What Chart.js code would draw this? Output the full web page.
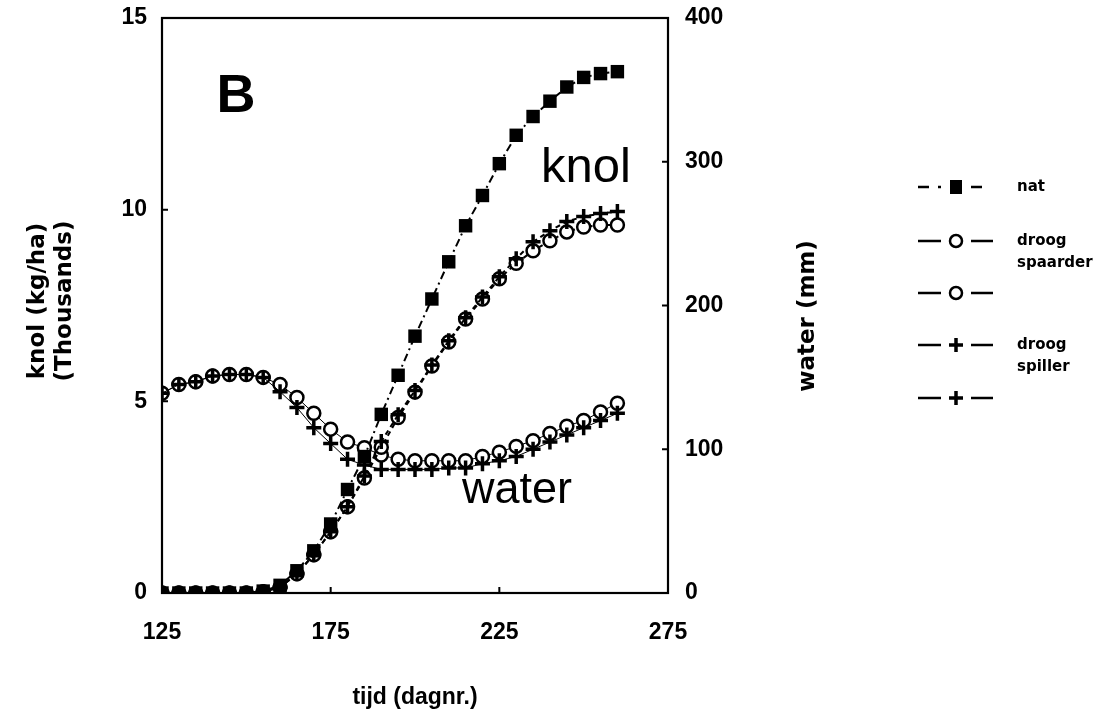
<!DOCTYPE html>
<html><head><meta charset="utf-8">
<script src="https://cdn.jsdelivr.net/npm/chart.js@4/dist/chart.umd.min.js"></script>
<style>html,body{margin:0;padding:0;background:#fff}#wrap{width:1102px;height:723px;position:relative}</style>
</head><body><div id="wrap"><canvas id="c" width="1102" height="723"></canvas></div>
<script>
// ---- data ----
const days = [125,130,135,140,145,150,155,160,165,170,175,180,185,190,195,200,205,210,215,220,225,230,235,240,245,250,255,260];
const knolNat      = [0,0,0,0,0,0,0.05,0.2,0.58,1.1,1.8,2.7,3.56,4.66,5.68,6.7,7.67,8.64,9.58,10.37,11.2,11.94,12.43,12.83,13.2,13.45,13.55,13.6];
const knolSpaarder = [0,0,0,0,0,0,0.03,0.15,0.5,1.0,1.6,2.25,3.0,3.8,4.58,5.24,5.92,6.55,7.15,7.67,8.2,8.6,8.93,9.19,9.42,9.55,9.6,9.6];
const knolSpiller  = [0,0,0,0,0,0,0.03,0.15,0.5,1.0,1.6,2.25,3.05,3.95,4.65,5.28,5.95,6.58,7.18,7.72,8.25,8.72,9.16,9.45,9.69,9.82,9.9,9.95];
const waterSpaarder = [139,145,147,151,152,152,150,145,136,125,114,105,101,96,93,92,92,92,92,95,98,102,106,111,116,120,126,132];
const waterSpiller  = [139,145,147,151,152,152,150,140,129,115,104,93,89,86,86,86,86,87,87,90,92,95,100,105,110,115,120,125];
const xTicks = [125,175,225,275];
const yLeftTicks = [0,5,10,15];
const yRightTicks = [0,100,200,300,400];
const legendItems = [
  {style:'nat', lines:['nat']},
  {style:'circle', lines:['droog','spaarder']},
  {style:'circle', lines:[]},
  {style:'plus', lines:['droog','spiller']},
  {style:'plus', lines:[]}
];

const pts = arr => days.map((d,i)=>({x:d, y:arr[i]}));

const circleStyle = {pointStyle:'circle', pointRadius:6.5, pointBorderWidth:2.5, pointBackgroundColor:'#fff', pointBorderColor:'#000'};
const plusStyle = {pointStyle:'cross', pointRadius:7.5, pointBorderWidth:3.5, pointBorderColor:'#000', pointBackgroundColor:'#000'};

const datasets = [
  Object.assign({label:'nat', data:pts(knolNat), yAxisID:'y', borderColor:'#000', borderWidth:2, borderDash:[8,4,2,4],
    pointStyle:'rect', pointRadius:9.5, pointBackgroundColor:'#000', pointBorderColor:'#000', pointBorderWidth:0}),
  Object.assign({label:'droog spiller knol', data:pts(knolSpiller), yAxisID:'y', borderColor:'#000', borderWidth:2, borderDash:[5,4]}, plusStyle),
  Object.assign({label:'droog spiller water', data:pts(waterSpiller), yAxisID:'y1', borderColor:'#000', borderWidth:1}, plusStyle),
  Object.assign({label:'droog spaarder knol', data:pts(knolSpaarder), yAxisID:'y', borderColor:'#000', borderWidth:2, borderDash:[5,4]}, circleStyle),
  Object.assign({label:'droog spaarder water', data:pts(waterSpaarder), yAxisID:'y1', borderColor:'#000', borderWidth:1}, circleStyle)
];

const tickFont = {family:'Liberation Sans', weight:'bold', size:23};

const decor = {
  id:'decor',
  afterDraw(chart){
    const ctx = chart.ctx, a = chart.chartArea;
    const sx = chart.scales.x, sy = chart.scales.y, sy1 = chart.scales.y1;
    ctx.save();
    ctx.strokeStyle = '#000'; ctx.lineWidth = 2.2;
    ctx.strokeRect(a.left, a.top, a.right - a.left, a.bottom - a.top);
    ctx.lineWidth = 2;
    ctx.beginPath();
    yLeftTicks.forEach(v=>{const y=sy.getPixelForValue(v); ctx.moveTo(a.left,y); ctx.lineTo(a.left+6,y);});
    yRightTicks.forEach(v=>{const y=sy1.getPixelForValue(v); ctx.moveTo(a.right,y); ctx.lineTo(a.right-6,y);});
    xTicks.forEach(v=>{const x=sx.getPixelForValue(v); ctx.moveTo(x,a.bottom); ctx.lineTo(x,a.bottom-6);});
    ctx.stroke();

    ctx.fillStyle = '#000';
    // annotations
    ctx.textAlign = 'center'; ctx.textBaseline = 'alphabetic';
    ctx.font = 'bold 54px "Liberation Sans"';
    ctx.fillText('B', 236, 112);
    ctx.textAlign = 'left';
    ctx.font = '49px "Liberation Sans"';
    ctx.fillText('knol', 541, 182);
    ctx.font = '45px "Liberation Sans"';
    ctx.fillText('water', 462, 503);

    // axis titles
    ctx.font = 'bold 23px "DejaVu Sans"';
    ctx.textAlign = 'center'; ctx.textBaseline = 'middle';
    ctx.save(); ctx.translate(38, 301); ctx.rotate(-Math.PI/2); ctx.fillText('knol (kg/ha)', 0, 0); ctx.restore();
    ctx.save(); ctx.translate(65, 301); ctx.rotate(-Math.PI/2); ctx.fillText('(Thousands)', 0, 0); ctx.restore();
    ctx.save(); ctx.translate(808, 316); ctx.rotate(-Math.PI/2); ctx.fillText('water (mm)', 0, 0); ctx.restore();
    ctx.font = 'bold 23px "Liberation Sans"';
    ctx.fillText('tijd (dagnr.)', 415, 698);

    // legend
    const rows = [187, 241, 293, 345, 398];
    const mx = 956, tx = 1017;
    ctx.lineWidth = 2.5;
    legendItems.forEach((it, i)=>{
      const y = rows[i];
      ctx.strokeStyle = '#000'; ctx.fillStyle = '#000';
      ctx.beginPath();
      if (it.style === 'nat') {
        ctx.moveTo(918,y); ctx.lineTo(929,y);
        ctx.moveTo(938,y); ctx.lineTo(941,y);
        ctx.moveTo(971,y); ctx.lineTo(982,y);
        ctx.stroke();
        ctx.fillRect(mx-6, y-7, 12, 14);
      } else {
        ctx.moveTo(918,y); ctx.lineTo(941,y);
        ctx.moveTo(971,y); ctx.lineTo(993,y);
        ctx.stroke();
        ctx.beginPath();
        if (it.style === 'circle') {
          ctx.lineWidth = 2.5; ctx.arc(mx, y, 6, 0, Math.PI*2); ctx.stroke();
        } else {
          ctx.lineWidth = 3.5; ctx.moveTo(mx-7,y); ctx.lineTo(mx+7,y); ctx.moveTo(mx,y-7); ctx.lineTo(mx,y+7); ctx.stroke();
        }
        ctx.lineWidth = 2.5;
      }
      ctx.font = 'bold 15px "DejaVu Sans"';
      ctx.textAlign = 'left'; ctx.textBaseline = 'middle';
      it.lines.forEach((t, j)=> ctx.fillText(t, tx, y + j*22));
    });
    ctx.restore();
  }
};

new Chart(document.getElementById('c'), {
  type:'line',
  data:{datasets},
  options:{
    responsive:false, animation:false, devicePixelRatio:1,
    layout:{padding:{top:18, right:0, left:0, bottom:0}},
    plugins:{legend:{display:false}, tooltip:{enabled:false}},
    elements:{line:{tension:0}},
    scales:{
      x:{type:'linear', min:125, max:275,
        afterBuildTicks: s => { s.ticks = xTicks.map(v=>({value:v})); },
        afterFit: s => { s.height = 130; },
        grid:{display:false, drawTicks:false}, border:{display:false},
        ticks:{color:'#000', font:tickFont, padding:26, maxRotation:0}},
      y:{type:'linear', position:'left', min:0, max:15,
        afterBuildTicks: s => { s.ticks = yLeftTicks.map(v=>({value:v})); },
        afterFit: s => { s.width = 162; },
        grid:{display:false, drawTicks:true, tickLength:13}, border:{display:false},
        ticks:{color:'#000', font:tickFont, padding:2}},
      y1:{type:'linear', position:'right', min:0, max:400,
        afterBuildTicks: s => { s.ticks = yRightTicks.map(v=>({value:v})); },
        afterFit: s => { s.width = 434; },
        grid:{display:false, drawTicks:true, tickLength:15}, border:{display:false},
        ticks:{color:'#000', font:tickFont, padding:2}}
    }
  },
  plugins:[decor]
});
</script>
</body></html>
